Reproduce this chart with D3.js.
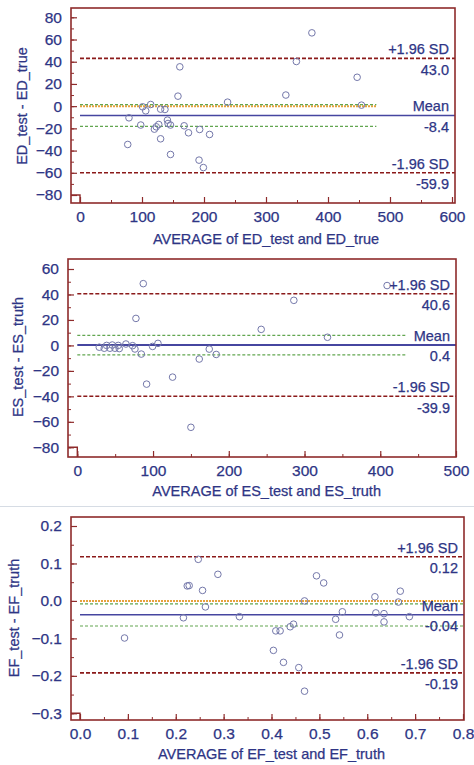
<!DOCTYPE html>
<html>
<head>
<meta charset="utf-8">
<script src="https://cdn.jsdelivr.net/npm/d3@7"></script>
<style>
  body { margin: 0; background: #fff; }
  svg { display: block; font-family: "Liberation Sans", Arial, sans-serif; }
  svg text { stroke: #2e3585; stroke-width: 0.25px; }
</style>
</head>
<body>
<div id="output"></div>
<script>
// ED panel
const edAvg  = [79, 77, 98, 101, 106, 114, 120, 123, 127, 130, 130, 137, 141, 142, 146, 146, 158, 161, 168, 175, 192, 193, 199, 209, 238, 332, 349, 374, 447, 454];
const edDiff = [-10.5, -34.5, -17, -0.6, -4.2, 1.5, -20.7, -18.6, -16.5, -29.4, -2.7, -3, -12.6, -15.6, -17, -43.5, 9, 35.4, -17.7, -24, -48.6, -21, -55.3, -25.5, 3.6, 10, 40.2, 66, 26, 0.9];
const edLimits = [43.0, -8.4, -59.9];          // +1.96 SD, mean, -1.96 SD
const edLimitLabels = ["43.0", "-8.4", "-59.9"];
const edCI = [1.4, -18.2];                      // 95% CI of mean
const edCIEnd = 478;
const edXTicks = [0, 100, 200, 300, 400, 500, 600];
const edYTicks = [-80, -60, -40, -20, 0, 20, 40, 60, 80];

// ES panel
const esAvg  = [29, 35.6, 38.7, 43.1, 46.2, 49.7, 54.1, 55.4, 64.2, 73, 76.1, 77.4, 84.5, 87.1, 91.5, 99.4, 106.5, 125.8, 150, 161, 174.2, 183.4, 242.8, 285.9, 330.3, 409];
const esDiff = [-1.4, -2.2, 0, -2.2, 0.3, -2.2, 0, -2.5, 1.1, -0.2, -2.8, 21.2, -6.8, 48.5, -30.4, -0.8, 1.6, -24.9, -64.3, -10.7, -2.9, -7.1, 12.6, 35.4, 6.4, 47];
const esLimits = [40.6, 0.4, -39.9];
const esLimitLabels = ["40.6", "0.4", "-39.9"];
const esCI = [7.9, -7.5];
const esCIEnd = 435;
const esXTicks = [0, 100, 200, 300, 400, 500];
const esYTicks = [-80, -60, -40, -20, 0, 20, 40, 60];

// EF panel
const efAvg  = [0.093, 0.216, 0.224, 0.228, 0.247, 0.256, 0.262, 0.288, 0.333, 0.404, 0.409, 0.418, 0.425, 0.439, 0.446, 0.457, 0.469, 0.469, 0.494, 0.509, 0.534, 0.542, 0.548, 0.616, 0.618, 0.635, 0.635, 0.665, 0.669, 0.688];
const efDiff = [-0.099, -0.045, 0.040, 0.041, 0.111, 0.028, -0.016, 0.071, -0.042, -0.132, -0.080, -0.080, -0.164, -0.069, -0.062, -0.178, 0.0, -0.241, 0.067, 0.048, -0.049, -0.091, -0.029, 0.011, -0.032, -0.034, -0.056, -0.003, 0.026, -0.042];
const efLimits = [0.118, -0.037, -0.192];
const efLimitLabels = ["0.12", "-0.04", "-0.19"];
const efCI = [-0.008, -0.067];
const efCIEnd = 0.8;
const efXTicks = [0, 0.1, 0.2, 0.3, 0.4, 0.5, 0.6, 0.7, 0.8];
const efYTicks = [-0.3, -0.2, -0.1, 0, 0.1, 0.2];

const textColor = "#2e3585";
const frameColor = "#8e2b2b";

const svg = d3.select("#output").append("svg")
  .attr("width", 474)
  .attr("height", 765);

function drawPanel(p) {
  const x = d3.scaleLinear().domain(p.xDomain).range(p.xRange);
  const y = d3.scaleLinear().domain(p.yDomain).range(p.yRange);
  const g = svg.append("g");

  // minor ticks
  const xMinor = d3.range(p.xDomain[0], p.xDomain[1] + p.xStep / 4, p.xStep / 2);
  const yMinor = d3.range(p.yDomain[0], p.yDomain[1] + p.yStep / 4, p.yStep / 2);

  g.append("g")
    .attr("transform", `translate(0,${p.frame.bottom})`)
    .call(d3.axisBottom(x).tickValues(xMinor).tickSizeInner(-3).tickSizeOuter(0).tickFormat(""))
    .call(a => a.select(".domain").remove())
    .call(a => a.selectAll("line").attr("stroke", frameColor));
  g.append("g")
    .attr("transform", `translate(${p.frame.left},0)`)
    .call(d3.axisLeft(y).tickValues(yMinor).tickSizeInner(-3).tickSizeOuter(0).tickFormat(""))
    .call(a => a.select(".domain").remove())
    .call(a => a.selectAll("line").attr("stroke", frameColor));

  // major ticks + labels
  g.append("g")
    .attr("transform", `translate(0,${p.frame.bottom})`)
    .call(d3.axisBottom(x).tickValues(p.xTicks).tickSizeInner(-6).tickSizeOuter(0)
      .tickPadding(8).tickFormat(d3.format(p.fmt)))
    .call(a => a.select(".domain").remove())
    .call(a => a.selectAll("line").attr("stroke", frameColor).attr("stroke-width", 1.2))
    .call(a => a.selectAll("text").attr("fill", textColor).style("font-size", "15.5px").attr("font-family", null));
  g.append("g")
    .attr("transform", `translate(${p.frame.left},0)`)
    .call(d3.axisLeft(y).tickValues(p.yTicks).tickSizeInner(-6).tickSizeOuter(0)
      .tickPadding(9).tickFormat(d3.format(p.fmt)))
    .call(a => a.select(".domain").remove())
    .call(a => a.selectAll("line").attr("stroke", frameColor).attr("stroke-width", 1.2))
    .call(a => a.selectAll("text").attr("fill", textColor).style("font-size", "15.5px").attr("font-family", null));

  // line of equality
  if (p.equality) {
    g.append("line")
      .attr("x1", x(0)).attr("x2", x(p.ciEnd))
      .attr("y1", y(0)).attr("y2", y(0))
      .attr("stroke", "#e6a23c").attr("stroke-width", 2).attr("stroke-dasharray", "2,1");
  }

  // CI of mean
  p.ci.forEach(v => {
    g.append("line")
      .attr("x1", x(0)).attr("x2", x(p.ciEnd))
      .attr("y1", y(v)).attr("y2", y(v))
      .attr("stroke", "#62a650").attr("stroke-width", 1.2).attr("stroke-dasharray", "3,2");
  });

  // limits of agreement and mean
  p.limits.forEach((v, i) => {
    g.append("line")
      .attr("x1", x(0)).attr("x2", p.frame.right)
      .attr("y1", y(v)).attr("y2", y(v))
      .attr("stroke", i === 1 ? "#4646a0" : "#8b1a1a")
      .attr("stroke-width", i === 1 ? p.meanWidth : 1.6)
      .attr("stroke-dasharray", i === 1 ? null : "4,2");
  });

  // points
  g.selectAll("circle")
    .data(d3.zip(p.avg, p.diff))
    .enter().append("circle")
    .attr("cx", d => x(d[0]))
    .attr("cy", d => y(d[1]))
    .attr("r", 3.3)
    .attr("fill", "none")
    .attr("stroke", "#7478aa")
    .attr("stroke-width", 1);

  // right-hand labels
  const names = ["+1.96 SD", "Mean", "-1.96 SD"];
  p.limits.forEach((v, i) => {
    g.append("text")
      .attr("x", p.frame.right - 6).attr("y", y(v) - 4)
      .attr("text-anchor", "end").attr("fill", textColor)
      .style("font-size", "14.5px")
      .text(names[i]);
    g.append("text")
      .attr("x", p.frame.right - 6).attr("y", y(v) + 16.5)
      .attr("text-anchor", "end").attr("fill", textColor)
      .style("font-size", "14.5px")
      .text(p.limitLabels[i]);
  });

  // frame + corner box
  g.append("rect")
    .attr("x", p.frame.left).attr("y", p.frame.top)
    .attr("width", p.frame.right - p.frame.left)
    .attr("height", p.frame.bottom - p.frame.top)
    .attr("fill", "none").attr("stroke", frameColor).attr("stroke-width", 1.6);
  g.append("path")
    .attr("d", `M${p.frame.left},${y(p.yDomain[0])}H${x(0)}V${p.frame.bottom}`)
    .attr("fill", "none").attr("stroke", frameColor).attr("stroke-width", 1.4);

  // axis titles
  g.append("text")
    .attr("x", (p.xRange[0] + p.xRange[1]) / 2)
    .attr("y", p.xTitleY)
    .attr("text-anchor", "middle").attr("fill", textColor)
    .style("font-size", "14.5px")
    .text(p.xTitle);
  g.append("text")
    .attr("transform", `translate(${p.yTitleX},${p.yTitleMid}) rotate(-90)`)
    .attr("text-anchor", "middle").attr("fill", textColor)
    .style("font-size", "14.5px")
    .text(p.yTitle);
}

drawPanel({
  avg: edAvg, diff: edDiff, limits: edLimits, limitLabels: edLimitLabels,
  ci: edCI, ciEnd: edCIEnd, xTicks: edXTicks, yTicks: edYTicks,
  equality: true, meanWidth: 1.4,
  xDomain: [0, 600], xRange: [80, 452], xStep: 100,
  yDomain: [-80, 80], yRange: [195, 17.3], yStep: 20, fmt: "d",
  frame: {left: 71, top: 8, right: 455, bottom: 203},
  xTitle: "AVERAGE of ED_test and ED_true", xTitleY: 244,
  yTitle: "ED_test - ED_true", yTitleX: 27, yTitleMid: 106
});

drawPanel({
  avg: esAvg, diff: esDiff, limits: esLimits, limitLabels: esLimitLabels,
  ci: esCI, ciEnd: esCIEnd, xTicks: esXTicks, yTicks: esYTicks,
  equality: false, meanWidth: 2,
  xDomain: [0, 500], xRange: [77.3, 456], xStep: 100,
  yDomain: [-80, 60], yRange: [447.3, 269], yStep: 20, fmt: "d",
  frame: {left: 68, top: 259, right: 456, bottom: 457},
  xTitle: "AVERAGE of ES_test and ES_truth", xTitleY: 496,
  yTitle: "ES_test - ES_truth", yTitleX: 23, yTitleMid: 357
});

// separator
svg.append("line")
  .attr("x1", 0).attr("x2", 474)
  .attr("y1", 506.5).attr("y2", 506.5)
  .attr("stroke", "#d6dce4").attr("stroke-width", 1.2);

drawPanel({
  avg: efAvg, diff: efDiff, limits: efLimits, limitLabels: efLimitLabels,
  ci: efCI, ciEnd: efCIEnd, xTicks: efXTicks, yTicks: efYTicks,
  equality: true, meanWidth: 1.4,
  xDomain: [0, 0.8], xRange: [80, 463], xStep: 0.1,
  yDomain: [-0.3, 0.2], yRange: [713.3, 526], yStep: 0.1, fmt: ".1f",
  frame: {left: 71, top: 517, right: 464, bottom: 720},
  xTitle: "AVERAGE of EF_test and EF_truth", xTitleY: 759,
  yTitle: "EF_test - EF_truth", yTitleX: 19, yTitleMid: 618
});
</script>
</body>
</html>
